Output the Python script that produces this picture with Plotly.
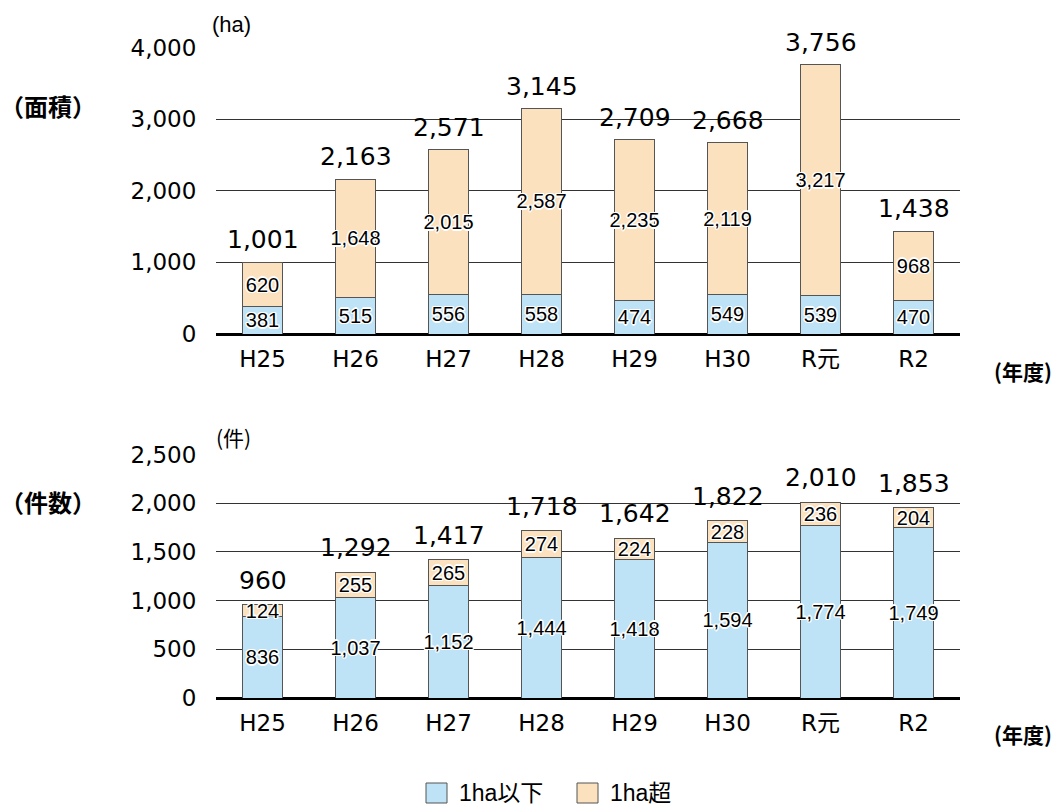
import plotly.graph_objects as go

# 年度
years = ["H25", "H26", "H27", "H28", "H29", "H30", "R元", "R2"]

# 面積 (ha)
area_small = [381, 515, 556, 558, 474, 549, 539, 470]      # 1ha以下
area_large = [620, 1648, 2015, 2587, 2235, 2119, 3217, 968]  # 1ha超
area_total = [1001, 2163, 2571, 3145, 2709, 2668, 3756, 1438]

# 件数 (件)
count_small = [836, 1037, 1152, 1444, 1418, 1594, 1774, 1749]  # 1ha以下
count_large = [124, 255, 265, 274, 224, 228, 236, 204]         # 1ha超
count_total = [960, 1292, 1417, 1718, 1642, 1822, 2010, 1853]

area_ticks = [0, 1000, 2000, 3000, 4000]
count_ticks = [0, 500, 1000, 1500, 2000, 2500]

BLUE = "#bee3f7"
ORANGE = "#fbe1bd"
EDGE = "#555555"
LATIN = "Liberation Sans, Noto Sans CJK JP, sans-serif"
WIDE = "DejaVu Sans, Noto Sans CJK JP, sans-serif"
CJK = "Noto Sans CJK JP, sans-serif"
HALO = ("white 1px 1px 0px, white -1px -1px 0px, white 1px -1px 0px, "
        "white -1px 1px 0px, white 0px 1.5px 0px, white 0px -1.5px 0px, "
        "white 1.5px 0px 0px, white -1.5px 0px 0px")

W, H = 1056, 805


def seg(name, values, color, xa, ya):
    return go.Bar(
        x=years, y=values, name=name, xaxis=xa, yaxis=ya,
        marker=dict(color=color, line=dict(color=EDGE, width=1)),
        width=0.42,
        texttemplate="%{y:,}", textposition="inside",
        insidetextanchor="middle", textangle=0, constraintext="none",
        textfont=dict(family=LATIN, size=20, color="black", shadow=HALO),
        showlegend=False, hoverinfo="skip",
    )


fig = go.Figure()
fig.add_trace(seg("1ha以下", area_small, BLUE, "x", "y"))
fig.add_trace(seg("1ha超", area_large, ORANGE, "x", "y"))
fig.add_trace(seg("1ha以下", count_small, BLUE, "x2", "y2"))
fig.add_trace(seg("1ha超", count_large, ORANGE, "x2", "y2"))

annotations = []
for yr, s, l, t in zip(years, area_small, area_large, area_total):
    annotations.append(dict(x=yr, y=s + l, xref="x", yref="y", text=f"{t:,}",
                            showarrow=False, yanchor="bottom", yshift=6,
                            font=dict(family=WIDE, size=25, color="black")))
for yr, s, l, t in zip(years, count_small, count_large, count_total):
    annotations.append(dict(x=yr, y=s + l, xref="x2", yref="y2", text=f"{t:,}",
                            showarrow=False, yanchor="bottom", yshift=8,
                            font=dict(family=WIDE, size=25, color="black")))


def label(text, px, py, size, family=CJK, bold=False):
    return dict(x=px / W, y=1 - py / H, xref="paper", yref="paper",
                text=f"<b>{text}</b>" if bold else text, showarrow=False,
                xanchor="center", yanchor="middle",
                font=dict(family=family, size=size, color="black"))


annotations += [
    label("（面積）", 48, 105, 24, bold=True),
    label("(ha)", 231, 24, 22, family=LATIN),
    label("(年度)", 1023, 371, 21, bold=True),
    label("（件数）", 48, 501, 24, bold=True),
    label("(件)", 233, 437, 21, family=CJK),
    label("(年度)", 1023, 734, 21, bold=True),
]

# legend
shapes = []
legend_items = [("1ha以下", BLUE, 426), ("1ha超", ORANGE, 577)]
for text, color, x0 in legend_items:
    shapes.append(dict(type="rect", xref="paper", yref="paper",
                       x0=x0 / W, x1=(x0 + 21) / W,
                       y0=1 - 803 / H, y1=1 - 783 / H,
                       fillcolor=color, line=dict(color=EDGE, width=1)))
    annotations.append(dict(x=(x0 + 31) / W, y=1 - 793 / H, xref="paper",
                            yref="paper", text=text, showarrow=False,
                            xanchor="left", yanchor="middle",
                            font=dict(family=LATIN, size=23, color="black")))

xdom = [216 / W, 960 / W]
xcommon = dict(type="category", domain=xdom, showgrid=False, showline=False,
               zeroline=False, ticks="outside", ticklen=4, automargin=False,
               tickcolor="rgba(0,0,0,0)",
               tickfont=dict(family=WIDE, size=23, color="black"))
ycommon = dict(showgrid=True, gridcolor="#333333", gridwidth=1.2,
               zeroline=True, zerolinecolor="black", zerolinewidth=2.5,
               showline=False, ticks="outside", ticklen=14, automargin=False,
               tickcolor="rgba(0,0,0,0)", tickformat=",",
               tickfont=dict(family=WIDE, size=23, color="black"))

fig.update_layout(
    width=W, height=H,
    margin=dict(l=0, r=0, t=0, b=0, pad=0),
    paper_bgcolor="white", plot_bgcolor="white",
    barmode="stack",
    showlegend=False,
    xaxis=dict(xcommon, anchor="y"),
    yaxis=dict(ycommon, domain=[1 - 334 / H, 1 - 47.5 / H], anchor="x",
               range=[0, 4000], tickvals=area_ticks),
    xaxis2=dict(xcommon, anchor="y2"),
    yaxis2=dict(ycommon, domain=[1 - 698 / H, 1 - 454.5 / H], anchor="x2",
                range=[0, 2500], tickvals=count_ticks),
    annotations=annotations,
    shapes=shapes,
)

fig.write_html("out.html")
